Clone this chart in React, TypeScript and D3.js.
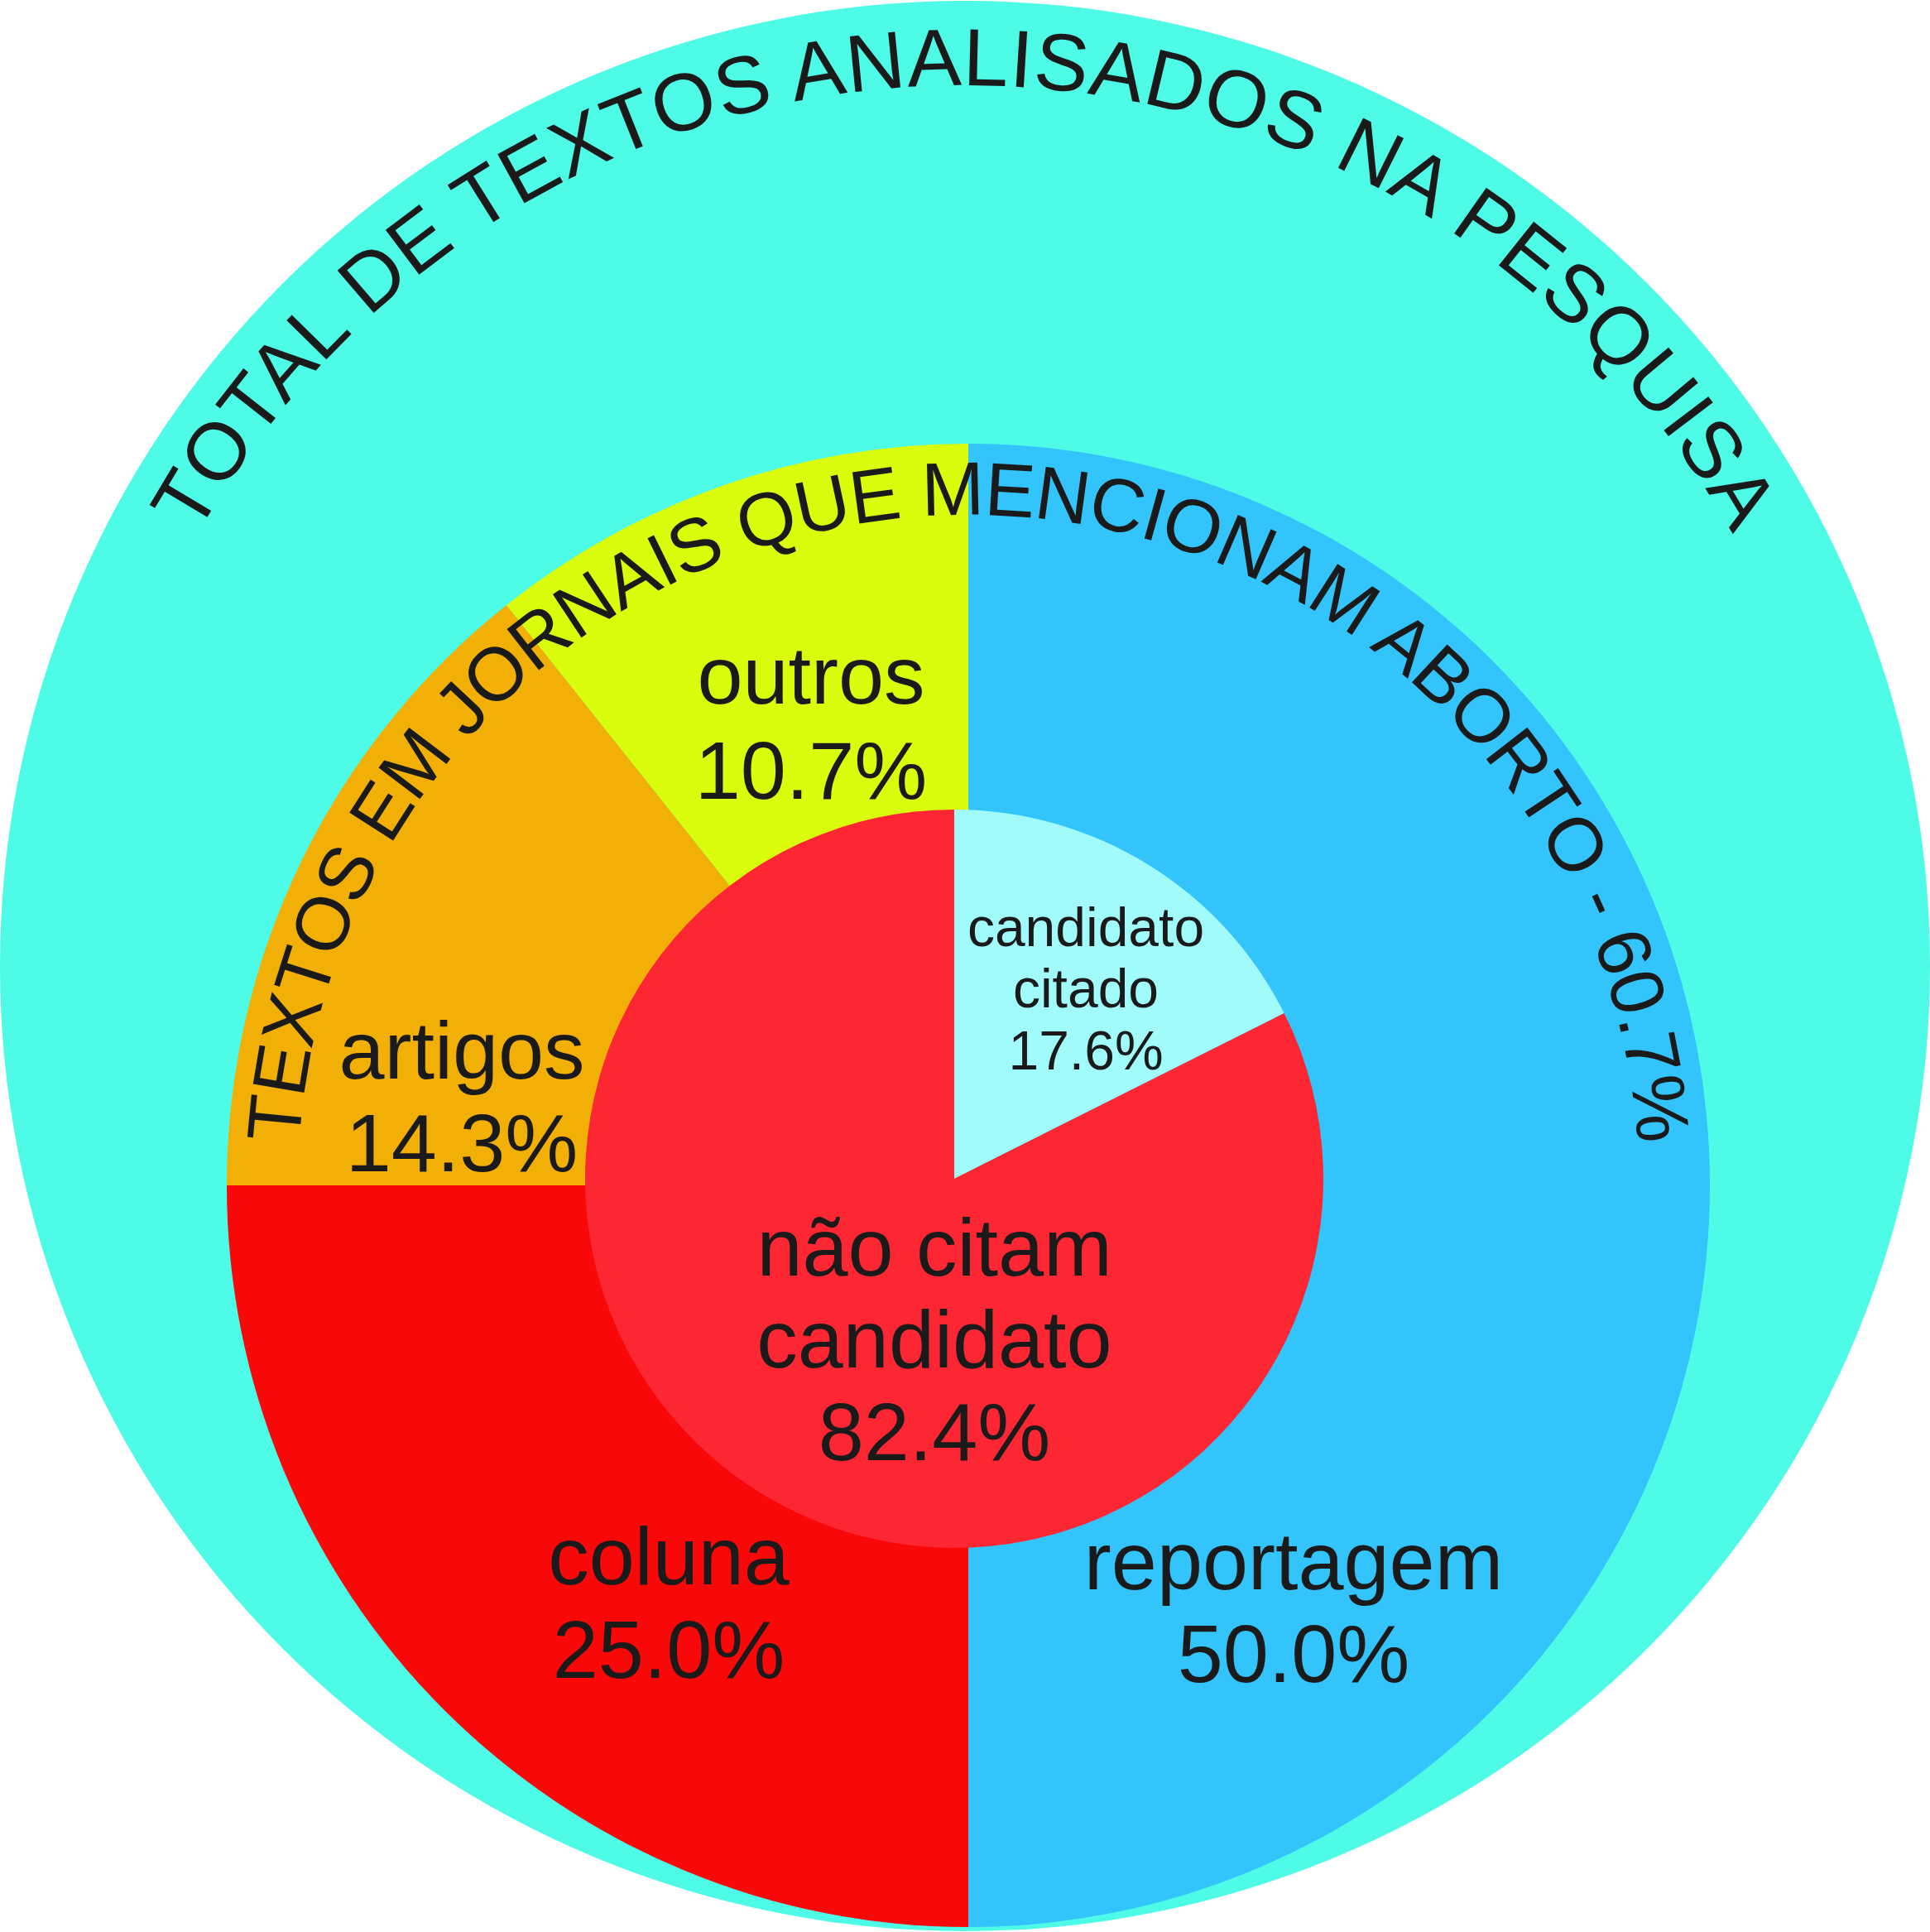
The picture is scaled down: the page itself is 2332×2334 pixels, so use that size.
import React from "react";
import * as d3 from "d3";

// ---- data ----
const outerTitle = "TOTAL DE TEXTOS ANALISADOS NA PESQUISA";
const middleTitle = "TEXTOS EM JORNAIS QUE MENCIONAM ABORTO - 60.7%";

const typeCategories = ["reportagem", "coluna", "artigos", "outros"];
const typeValues = [50.0, 25.0, 14.3, 10.7];
const typeLabels = ["50.0%", "25.0%", "14.3%", "10.7%"];

const citeCategories = ["candidato citado", "não citam candidato"];
const citeValues = [17.6, 82.4];
const citeLabels = ["17.6%", "82.4%"];

// ---- styles / layout ----
const W = 2332;
const H = 2334;
const FONT = "'Liberation Sans', Arial, Helvetica, sans-serif";
const TEXT = "#1a1a1a";

const outer = { cx: 1166, cy: 1167, r: 1166, fill: "#4dfbe7" };
const middle = { cx: 1170, cy: 1432, r: 896 };
const inner = { cx: 1153, cy: 1424, r: 446 };

const typeColors = ["#33c4fb", "#f80808", "#f2b007", "#d9fd0d"];
const citeColors = ["#a1fbfb", "#fd2734"];

// label block centers (offset from their pie centre), font sizes, line heights
const typeLabelLayout = [
  { dx: 393, dy: 544, fs: 99, lh: 112 },
  { dx: -362, dy: 538, fs: 99, lh: 113 },
  { dx: -612, dy: -73, fs: 99, lh: 112 },
  { dx: -190, dy: -525, fs: 99, lh: 115 },
];
const citeLabelLayout = [
  { dx: 159, dy: -207, fs: 66, lh: 74.5, lines: ["candidato", "citado"] },
  { dx: -24, dy: 228, fs: 99, lh: 111.5, lines: ["não citam", "candidato"] },
];

function arcPath(cx: number, cy: number, r: number, fromDeg: number, toDeg: number) {
  const p = d3.path();
  const toRad = (d: number) => ((d - 90) * Math.PI) / 180;
  p.arc(cx, cy, r, toRad(fromDeg), toRad(toDeg), false);
  return p.toString();
}

function Label({ x, y, lines, fs, lh }: { x: number; y: number; lines: string[]; fs: number; lh: number }) {
  const first = y - ((lines.length - 1) * lh) / 2;
  return (
    <text textAnchor="middle" fontFamily={FONT} fontSize={fs} fill={TEXT}>
      {lines.map((l, i) => (
        <tspan key={i} x={x} y={first + i * lh}>
          {l}
        </tspan>
      ))}
    </text>
  );
}

export default function App() {
  const pie = d3
    .pie<number>()
    .sort(null)
    .value((d) => d)
    .startAngle(0)
    .endAngle(2 * Math.PI);

  const typeArcs = pie(typeValues);
  const citeArcs = pie(citeValues);

  const middleArc = d3.arc<d3.PieArcDatum<number>>().innerRadius(0).outerRadius(middle.r);
  const innerArc = d3.arc<d3.PieArcDatum<number>>().innerRadius(0).outerRadius(inner.r);

  const outerTextPath = arcPath(outer.cx, outer.cy, 1064, -120, 120);
  const middleTextPath = arcPath(middle.cx, middle.cy, 810, -120, 120);

  return (
    <svg
      width={W}
      height={H}
      viewBox={`0 0 ${W} ${H}`}
      style={{ position: "absolute", left: 0, top: 0, background: "#ffffff" }}
    >
      <defs>
        <path id="outerTextArc" d={outerTextPath} />
        <path id="middleTextArc" d={middleTextPath} />
      </defs>

      <circle cx={outer.cx} cy={outer.cy} r={outer.r} fill={outer.fill} />

      <text fontFamily={FONT} fontSize={98} fill={TEXT} letterSpacing={1}>
        <textPath href="#outerTextArc" startOffset="50%" textAnchor="middle">
          {outerTitle}
        </textPath>
      </text>

      <g transform={`translate(${middle.cx},${middle.cy})`}>
        {typeArcs.map((a, i) => (
          <path key={typeCategories[i]} d={middleArc(a) || ""} fill={typeColors[i]} />
        ))}
      </g>

      <text fontFamily={FONT} fontSize={91} fill={TEXT} letterSpacing={-1.2}>
        <textPath href="#middleTextArc" startOffset="50%" textAnchor="middle">
          {middleTitle}
        </textPath>
      </text>

      {typeArcs.map((a, i) => (
        <Label
          key={"tl" + i}
          x={middle.cx + typeLabelLayout[i].dx}
          y={middle.cy + typeLabelLayout[i].dy}
          lines={[typeCategories[i], typeLabels[i]]}
          fs={typeLabelLayout[i].fs}
          lh={typeLabelLayout[i].lh}
        />
      ))}

      <g transform={`translate(${inner.cx},${inner.cy})`}>
        {citeArcs.map((a, i) => (
          <path key={citeCategories[i]} d={innerArc(a) || ""} fill={citeColors[i]} />
        ))}
      </g>

      {citeArcs.map((a, i) => (
        <Label
          key={"cl" + i}
          x={inner.cx + citeLabelLayout[i].dx}
          y={inner.cy + citeLabelLayout[i].dy}
          lines={[...citeLabelLayout[i].lines, citeLabels[i]]}
          fs={citeLabelLayout[i].fs}
          lh={citeLabelLayout[i].lh}
        />
      ))}
    </svg>
  );
}
